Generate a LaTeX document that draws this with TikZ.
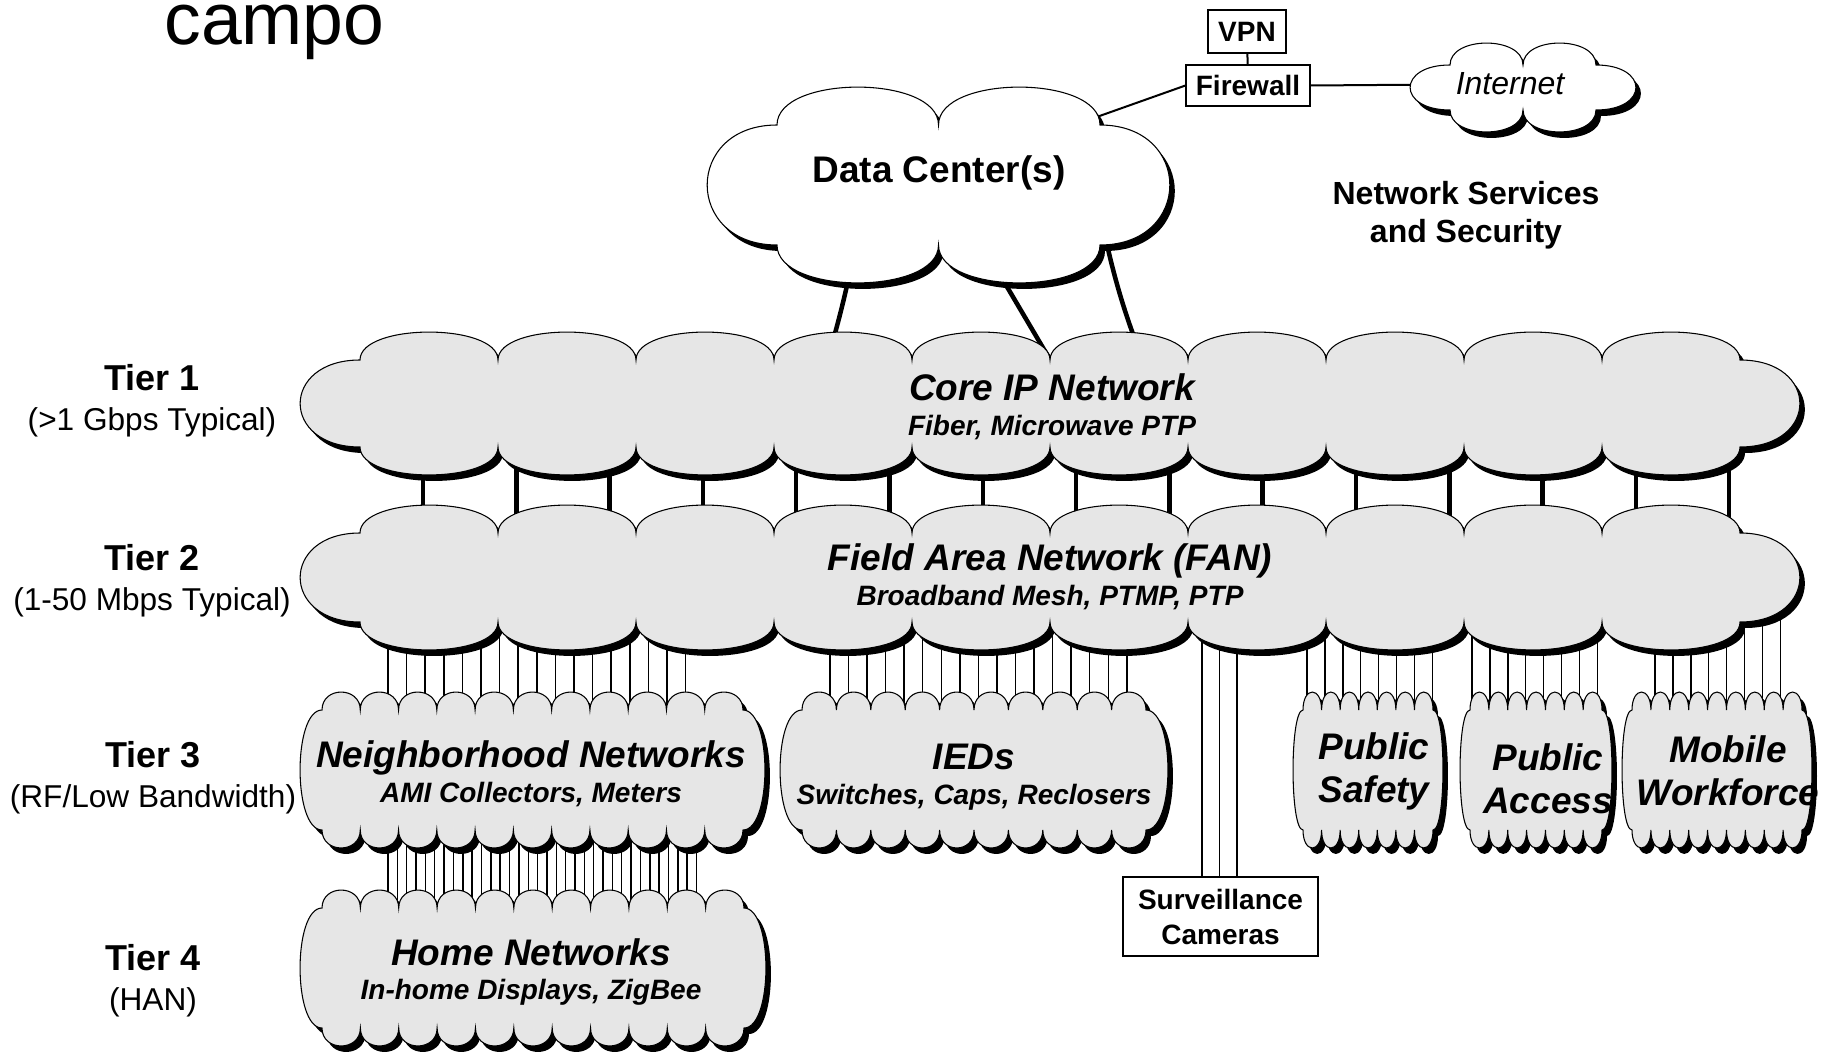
\documentclass[tikz,border=0pt]{standalone}
\usepackage{fontspec}
\setmainfont{Liberation Sans}
\usetikzlibrary{calc}
\usepackage{xcolor}

\pgfdeclarelayer{bg}
\pgfsetlayers{bg,main}
\definecolor{cloudgray}{RGB}{230,230,230}

\tikzset{
  cloudline/.style={draw=black, line width=0.8pt},
  cloudshadow/.style={fill=black, shift={(5,6)}},
  trunk/.style={line width=3.4pt},
  feeder/.style={line width=1.1pt},
  link/.style={line width=1.5pt},
  boxnode/.style={draw, line width=0.8pt, fill=white, inner sep=0pt, align=center, font=\fontsize{21}{26.25}\selectfont\bfseries},
  netlabel/.style={inner sep=0pt, align=center, font=\fontsize{27.75}{26}\selectfont\bfseries\itshape},
  tierlabel/.style={inner sep=0pt, align=center, font=\fontsize{27}{30.3}\selectfont\bfseries},
}

% scalloped cloud: x1, y1, x2, y2, bumps, bump depth, side lobe
\newcommand{\cloudpath}[7]{%
  ({#1+#7},{#2+#6})
  \foreach \k in {1,...,#5}{ .. controls ({#1+#7+(\k-1)*(#3-#1-2*#7)/#5},{#2-0.33*#6}) and ({#1+#7+\k*(#3-#1-2*#7)/#5},{#2-0.33*#6}) .. ({#1+#7+\k*(#3-#1-2*#7)/#5},{#2+#6}) }
  .. controls ({#3+0.33*#7},{#2+#6}) and ({#3+0.33*#7},{#4-#6}) .. ({#3-#7},{#4-#6})
  \foreach \k in {1,...,#5}{ .. controls ({#3-#7-(\k-1)*(#3-#1-2*#7)/#5},{#4+0.33*#6}) and ({#3-#7-\k*(#3-#1-2*#7)/#5},{#4+0.33*#6}) .. ({#3-#7-\k*(#3-#1-2*#7)/#5},{#4-#6}) }
  .. controls ({#1-0.33*#7},{#4-#6}) and ({#1-0.33*#7},{#2+#6}) .. ({#1+#7},{#2+#6}) -- cycle}
\newcommand{\netcloud}[8][cloudgray]{%
  \fill[cloudshadow] \cloudpath{#2}{#3}{#4}{#5}{#6}{#7}{#8};
  \filldraw[cloudline, fill=#1] \cloudpath{#2}{#3}{#4}{#5}{#6}{#7}{#8};}
\newcommand{\subline}{\fontsize{21}{26}\selectfont}
\newcommand{\tiersub}{\fontsize{23.7}{30.3}\selectfont\mdseries}

\begin{document}
\begin{tikzpicture}[x=0.75pt,y=0.75pt,yscale=-1,xscale=1]
\useasboundingbox (0,0) rectangle (1826,1052);

%Shape: Cloud (data center)
\netcloud[white]{707}{87}{1170}{283}{2}{38}{70}
%Shape: Cloud (internet)
\netcloud[white]{1410}{43}{1636}{132}{2}{22}{40}
%Shape: Cloud (tier 1)
\netcloud{300}{332}{1800}{475}{10}{28}{60}
%Shape: Cloud (tier 2)
\netcloud{300}{505}{1800}{650}{10}{28}{60}
%Shape: Cloud (tier 3)
\netcloud{300}{692}{765}{848}{11}{18}{22}
\netcloud{780}{692}{1168}{848}{10}{18}{22}
\netcloud{1293}{692}{1443}{848}{7}{18}{10}
\netcloud{1460}{692}{1612}{848}{7}{18}{10}
\netcloud{1622}{692}{1812}{848}{9}{18}{10}
%Shape: Cloud (tier 4)
\netcloud{300}{890}{766}{1046}{11}{18}{22}

% Text Node
\node[anchor=base, inner sep=0pt, font=\fontsize{55}{60}\selectfont] (title) at (274.5,45) {campo};
% Text Node
\node[inner sep=0pt, font=\fontsize{27.75}{30}\selectfont\bfseries] (dc) at (939,173) {Data Center(s)};
% Text Node
\node[inner sep=0pt, font=\fontsize{24}{28}\selectfont\itshape] (inet) at (1510,84) {Internet};
% Text Node
\node[boxnode, minimum width=58.5pt, minimum height=32.25pt] (vpn) at (1247,31.5) {VPN};
% Text Node
\node[boxnode, minimum width=93pt, minimum height=30.75pt] (fw) at (1248,85.5) {Firewall};
% Text Node
\node[inner sep=0pt, align=center, font=\fontsize{24}{28.5}\selectfont\bfseries] (services) at (1466,215) {Network Services\\and Security};
% Text Node
\node[netlabel] (core) at (1052,407) {Core IP Network\\\subline Fiber, Microwave PTP};
% Text Node
\node[netlabel] (fan) at (1050,577) {Field Area Network (FAN)\\\subline Broadband Mesh, PTMP, PTP};
% Text Node
\node[netlabel] (nbr) at (531,774) {Neighborhood Networks\\\subline AMI Collectors, Meters};
% Text Node
\node[netlabel] (ied) at (974,777) {IEDs\\\subline Switches, Caps, Reclosers};
% Text Node
\node[netlabel, font=\fontsize{27.75}{32.25}\selectfont\bfseries\itshape] (safety) at (1374,771) {Public\\Safety};
% Text Node
\node[netlabel, font=\fontsize{27.75}{32.25}\selectfont\bfseries\itshape] (access) at (1548,779) {Public\\Access};
% Text Node
\node[netlabel, font=\fontsize{27.75}{32.25}\selectfont\bfseries\itshape] (mobile) at (1728,771) {Mobile\\Workforce};
% Text Node
\node[netlabel] (home) at (531,972) {Home Networks\\\subline In-home Displays, ZigBee};
% Text Node
\node[boxnode, minimum width=146.25pt, minimum height=59.25pt] (surv) at (1220.5,916.5) {Surveillance\\Cameras};
% Text Node
\node[tierlabel] (tier1) at (152,401) {Tier 1\\\tiersub (>1 Gbps Typical)};
% Text Node
\node[tierlabel] (tier2) at (152,581) {Tier 2\\\tiersub (1-50 Mbps Typical)};
% Text Node
\node[tierlabel] (tier3) at (153,778) {Tier 3\\\tiersub (RF/Low Bandwidth)};
% Text Node
\node[tierlabel] (tier4) at (153,981) {Tier 4\\\tiersub (HAN)};

\begin{pgfonlayer}{bg}
%Straight Lines
\draw[link] (vpn) -- (fw);
\draw[link] (fw.west) -- (dc);
\draw[link] (fw.east) -- (inet);
%Straight Lines
\draw[trunk] ($(dc)+(-76,29)$) to[bend right=4] ($(core)+(-236,-10)$);
\draw[trunk] ($(dc)+(18,29)$) -- ($(core)+(20,-10)$);
\draw[trunk] ($(dc)+(159,29)$) to[bend left=6] ($(core)+(106,-10)$);
%Straight Lines
\foreach \k [evaluate=\k as \xx using 423+93.3*\k] in {0,...,14}
  \draw[trunk] (\xx,0 |- core) -- (\xx,0 |- fan);
%Straight Lines
\foreach \k [evaluate=\k as \xx using 388+18.6*\k] in {0,...,16}
  \draw[feeder] (\xx,0 |- fan) -- (\xx,0 |- nbr);
\foreach \k [evaluate=\k as \xx using 830+18.55*\k] in {0,...,16}
  \draw[feeder] (\xx,0 |- fan) -- (\xx,0 |- ied);
\foreach \k [evaluate=\k as \xx using 1202+17.5*\k] in {0,...,2}
  \draw[feeder] (\xx,0 |- fan) -- (\xx,0 |- surv.north);
\foreach \k [evaluate=\k as \xx using 1307+17.9*\k] in {0,...,7}
  \draw[feeder] (\xx,0 |- fan) -- (\xx,0 |- safety);
\foreach \k [evaluate=\k as \xx using 1472+17.9*\k] in {0,...,7}
  \draw[feeder] (\xx,0 |- fan) -- (\xx,0 |- access);
\foreach \k [evaluate=\k as \xx using 1655+17.9*\k] in {0,...,7}
  \draw[feeder] (\xx,0 |- fan) -- (\xx,0 |- mobile);
%Straight Lines
\foreach \k [evaluate=\k as \xx using 388+9.35*\k] in {0,...,33}
  \draw[feeder] (\xx,0 |- nbr) -- (\xx,0 |- home);
\end{pgfonlayer}

\end{tikzpicture}
\end{document}
